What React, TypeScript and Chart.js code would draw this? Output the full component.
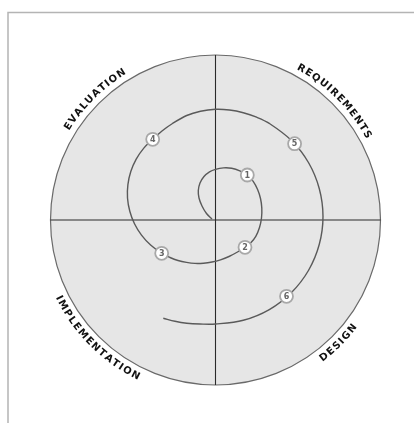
import React, { useEffect, useRef } from "react";
import { Chart, registerables } from "chart.js";

Chart.register(...registerables);

// Spiral path (units: offset from the centre of the quadrants; outer circle radius = 165)
const spiralX = [-3.5, -9, -13.5, -16.5, -17.2, -15.5, -11.5, -6, 0, 8, 16.2, 24.3, 31.8, 37.7, 42.1, 45, 46.3, 46, 44, 40.3, 35.1, 29.5, 22, 13.5, 5, -3.5, -12, -20.5, -29, -37.5, -45.5, -53.8, -64.9, -74, -81, -85.7, -88, -87.6, -84.7, -79.3, -71.7, -62.8, -53.5, -43, -28.8, -15, 0, 14, 27.8, 41.1, 53.8, 76, 93.1, 103.8, 107.5, 103.8, 93.1, 76, 53.8, 27.8, 0, -15.5, -28.8, -40.5, -52.2];
const spiralY = [1, 6.5, 14, 22, 29.5, 37, 43.5, 48.2, 50.7, 52.1, 51.7, 49.2, 45, 38.7, 30.5, 21.5, 12, 2, -7.5, -16.3, -23, -27.3, -32, -36.5, -39.8, -42, -43.2, -43.4, -42.4, -40.5, -37.5, -33.3, -25.1, -15.2, -3.8, 8.8, 22, 35.4, 48.5, 60.9, 71.9, 80.7, 89, 96.5, 104.5, 108.8, 110.7, 110, 107.3, 102.8, 96.6, 79.5, 57.25, 31.3, 3.5, -24.3, -50.25, -72.5, -89.6, -100.3, -104, -104, -103.2, -101.3, -98.3];

// Numbered milestones on the spiral
const markerLabels = ["1", "2", "3", "4", "5", "6"];
const markerX = [31.8, 29.5, -53.8, -62.8, 79.1, 71];
const markerY = [45, -27.3, -33.3, 80.7, 76.3, -76.3];

// Quadrant phase names: top-right, bottom-right, bottom-left, top-left
const phaseLabels = ["REQUIREMENTS", "DESIGN", "IMPLEMENTATION", "EVALUATION"];

const RADIUS = 165;

const diagramPlugin = {
  id: "spiralDiagram",
  beforeDatasetsDraw(chart: any) {
    const { ctx, scales } = chart;
    const cx = scales.x.getPixelForValue(0);
    const cy = scales.y.getPixelForValue(0);
    const r = scales.x.getPixelForValue(RADIUS) - cx;
    ctx.save();
    // page frame
    ctx.strokeStyle = "#b4b4b4";
    ctx.lineWidth = 1.5;
    ctx.beginPath();
    ctx.moveTo(8, 423);
    ctx.lineTo(8, 12.5);
    ctx.lineTo(414, 12.5);
    ctx.stroke();
    // circle
    ctx.beginPath();
    ctx.arc(cx, cy, r, 0, Math.PI * 2);
    ctx.fillStyle = "#e6e6e6";
    ctx.fill();
    ctx.strokeStyle = "#6a6a6a";
    ctx.lineWidth = 1.2;
    ctx.stroke();
    ctx.restore();
  },
  afterDatasetsDraw(chart: any) {
    const { ctx, scales } = chart;
    const cx = scales.x.getPixelForValue(0);
    const cy = scales.y.getPixelForValue(0);
    const r = scales.x.getPixelForValue(RADIUS) - cx;
    ctx.save();
    // marker numbers
    ctx.font = "bold 8px 'DejaVu Sans', Verdana, sans-serif";
    ctx.fillStyle = "#666";
    ctx.textAlign = "center";
    ctx.textBaseline = "middle";
    markerLabels.forEach((lab, i) => {
      const px = scales.x.getPixelForValue(markerX[i]);
      const py = scales.y.getPixelForValue(markerY[i]);
      ctx.fillText(lab, px, py + 0.5);
    });
    // curved phase labels
    ctx.font = "bold 10px 'DejaVu Sans', Verdana, sans-serif";
    ctx.fillStyle = "#111";
    const spacing = 1.2;
    const centres = [45, -45, -135, 135];
    phaseLabels.forEach((label, q) => {
      const top = q === 0 || q === 3;
      const tr = r + (top ? 9 : 10);
      const chars = label.split("");
      const widths = chars.map((c) => ctx.measureText(c).width + spacing);
      const total = widths.reduce((a, b) => a + b, 0) - spacing;
      const thc = (centres[q] * Math.PI) / 180;
      let acc = 0;
      chars.forEach((c, i) => {
        const w = widths[i] - spacing;
        const off = (acc + w / 2 - total / 2) / tr;
        const th = top ? thc - off : thc + off;
        const x = cx + tr * Math.cos(th);
        const y = cy - tr * Math.sin(th);
        const rot = top ? Math.PI / 2 - th : -(th + Math.PI / 2);
        ctx.save();
        ctx.translate(x, y);
        ctx.rotate(rot);
        ctx.fillText(c, 0, 0);
        ctx.restore();
        acc += widths[i];
      });
    });
    ctx.restore();
  },
};

export default function App() {
  const ref = useRef<HTMLCanvasElement | null>(null);
  useEffect(() => {
    if (!ref.current) return;
    const spiral = spiralX.map((x, i) => ({ x, y: spiralY[i] }));
    const markers = markerX.map((x, i) => ({ x, y: markerY[i] }));
    const chart = new Chart(ref.current, {
      type: "scatter",
      data: {
        datasets: [
          {
            data: markers,
            pointRadius: 6.5,
            pointBackgroundColor: "#ffffff",
            pointBorderColor: "#a8a8a8",
            pointBorderWidth: 1.8,
            order: 0,
            clip: false,
          } as any,
          {
            data: spiral,
            showLine: true,
            borderColor: "#5a5a5a",
            borderWidth: 1.4,
            pointRadius: 0,
            tension: 0.35,
            fill: false,
            order: 1,
            clip: false,
          } as any,
          {
            data: [{ x: -RADIUS, y: 0 }, { x: RADIUS, y: 0 }],
            showLine: true,
            borderColor: "#2a2a2a",
            borderWidth: 1.1,
            pointRadius: 0,
            order: 2,
            clip: false,
          } as any,
          {
            data: [{ x: 0, y: -RADIUS }, { x: 0, y: RADIUS }],
            showLine: true,
            borderColor: "#2a2a2a",
            borderWidth: 1.1,
            pointRadius: 0,
            order: 2,
            clip: false,
          } as any,
        ],
      },
      options: {
        animation: false,
        responsive: false,
        events: [],
        layout: { padding: { left: 50.5, right: 33.5, top: 55, bottom: 38 } },
        scales: {
          x: { type: "linear", min: -RADIUS, max: RADIUS, display: false },
          y: { type: "linear", min: -RADIUS, max: RADIUS, display: false },
        },
        plugins: { legend: { display: false }, tooltip: { enabled: false } },
      },
      plugins: [diagramPlugin],
    });
    return () => chart.destroy();
  }, []);
  return (
    <div style={{ position: "absolute", left: 0, top: 0, width: 414, height: 423, background: "#fff" }}>
      <canvas ref={ref} width={414} height={423} style={{ width: 414, height: 423, display: "block" }} />
    </div>
  );
}
